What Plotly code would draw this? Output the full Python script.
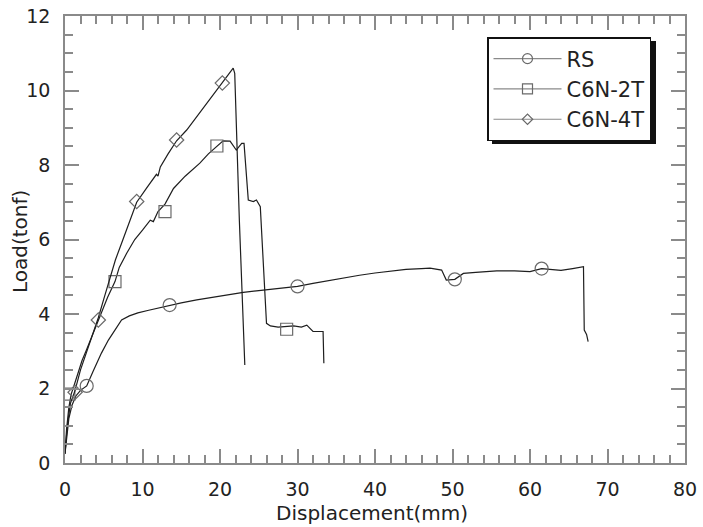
import plotly.graph_objects as go

# ---- data ----
rs_x = [0, 0.2, 0.5, 0.9, 1.4, 2.0, 2.8, 3.6, 4.7, 5.6, 6.5, 7.3, 8.3, 9.4, 10.8, 12.2, 13.5,
        15.0, 17.0, 19.0, 21.0, 23.0, 25.0, 27.0, 28.5, 30.0, 32.0, 34.0, 36.0, 38.0, 40.0,
        42.0, 44.0, 46.0, 47.1, 48.6, 49.2, 50.3, 51.4, 53.0, 55.7, 58.0, 60.0, 61.5, 63.0,
        64.0, 65.5, 66.9, 67.0, 67.3, 67.5]
rs_y = [0.25, 0.7, 1.2, 1.55, 1.8, 1.95, 2.07, 2.45, 2.95, 3.3, 3.6, 3.84, 3.95, 4.03, 4.1,
        4.17, 4.24, 4.3, 4.38, 4.45, 4.52, 4.58, 4.63, 4.68, 4.7, 4.74, 4.82, 4.9, 4.98, 5.04,
        5.1, 5.15, 5.2, 5.22, 5.23, 5.18, 4.91, 4.93, 5.09, 5.12, 5.16, 5.16, 5.14, 5.22, 5.2,
        5.17, 5.22, 5.27, 3.57, 3.45, 3.26]

c2_x = [0, 0.2, 0.5, 0.8, 1.2, 1.7, 2.2, 2.7, 3.2, 3.8, 4.5, 5.5, 6.45, 7.0, 7.96, 9.0, 10.0,
        11.0, 11.4, 12.0, 12.9, 14.0, 15.5, 17.4, 18.5, 19.6, 20.4, 21.3, 22.1, 22.8, 23.1,
        23.65, 24.3, 24.7, 25.2, 26.0, 26.5, 27.5, 28.6, 29.5, 30.5, 31.2, 32.0, 33.3, 33.4]
c2_y = [0.25, 0.9, 1.5, 1.85, 2.1, 2.45, 2.75, 3.0, 3.25, 3.6, 3.95, 4.45, 4.87, 5.25, 5.63,
        6.0, 6.25, 6.52, 6.48, 6.75, 6.95, 7.37, 7.7, 8.05, 8.3, 8.51, 8.65, 8.64, 8.4, 8.58,
        8.58, 7.06, 7.02, 7.06, 6.88, 3.75, 3.68, 3.65, 3.66, 3.68, 3.65, 3.7, 3.53, 3.53, 2.68]

c4_x = [0, 0.3, 0.7, 1.3, 2.0, 2.5, 3.0, 3.5, 4.3, 5.0, 5.8, 6.5, 7.3, 8.2, 9.25, 10.5, 11.3,
        11.8, 12.0, 12.3, 13.3, 14.4, 15.7, 17.0, 18.3, 19.3, 20.3, 21.0, 21.7, 21.9, 22.5, 23.2]
c4_y = [0.25, 1.0, 1.6, 1.95, 2.5, 2.8, 3.1, 3.4, 3.9, 4.4, 4.95, 5.45, 5.9, 6.4, 7.0, 7.37,
        7.6, 7.75, 7.7, 7.95, 8.3, 8.65, 8.94, 9.3, 9.66, 9.95, 10.2, 10.4, 10.6, 10.46, 6.5, 2.63]

# marker positions
rs_mx = [2.8, 13.5, 30.0, 50.3, 61.5]
rs_my = [2.07, 4.24, 4.74, 4.93, 5.22]
c2_mx = [0.5, 6.45, 12.9, 19.6, 28.6]
c2_my = [1.85, 4.87, 6.75, 8.51, 3.59]
c4_mx = [1.3, 4.3, 9.25, 14.4, 20.3]
c4_my = [1.9, 3.84, 7.02, 8.67, 10.2]

names = ["RS", "C6N-2T", "C6N-4T"]
x_ticks = [0, 10, 20, 30, 40, 50, 60, 70, 80]
y_ticks = [0, 2, 4, 6, 8, 10, 12]
x_title = "Displacement(mm)"
y_title = "Load(tonf)"

LINE = "#1e1e1e"
MK = "#6a6a6a"
FONT = "DejaVu Sans"

fig = go.Figure()
series = [
    (rs_x, rs_y, rs_mx, rs_my, "circle-open", 13, 10),
    (c2_x, c2_y, c2_mx, c2_my, "square-open", 12, 10),
    (c4_x, c4_y, c4_mx, c4_my, "diamond-open", 11, 8),
]
for (xs, ys, mx, my, sym, sz, lsz), nm in zip(series, names):
    fig.add_trace(go.Scatter(x=xs, y=ys, mode="lines", line=dict(color=LINE, width=1.2),
                             showlegend=False, hoverinfo="skip"))
    fig.add_trace(go.Scatter(x=mx, y=my, mode="markers",
                             marker=dict(symbol=sym, size=sz, color=MK, line=dict(width=1.2, color=MK)),
                             showlegend=False))
    fig.add_trace(go.Scatter(x=[None], y=[None], mode="lines+markers", name=nm,
                             line=dict(color="#8a8a8a", width=1.2),
                             marker=dict(symbol=sym, size=lsz, color=MK, line=dict(width=1.2, color=MK))))

axis_common = dict(
    showline=True, linecolor="#8a8a8a", linewidth=1.5, mirror="ticks",
    ticks="inside", tickcolor="#8a8a8a", tickwidth=1.5, ticklen=14,
    showgrid=False, zeroline=False, automargin=False,
    tickfont=dict(family=FONT, size=19, color="#222"),
)
fig.update_xaxes(**axis_common, range=[0, 80], tickvals=x_ticks,
                 ticktext=[str(v) for v in x_ticks],
                 minor=dict(dtick=2, ticks="inside", ticklen=8, tickcolor="#8a8a8a", tickwidth=1.5),
                 ticklabelstandoff=8)
fig.update_yaxes(**axis_common, range=[0, 12], tickvals=y_ticks,
                 ticktext=[str(v) for v in y_ticks],
                 minor=dict(dtick=0.5, ticks="inside", ticklen=8, tickcolor="#8a8a8a", tickwidth=1.5),
                 ticklabelstandoff=9)

L, R, T, B = 65, 685, 16, 463
def px2x(p): return (p - L) / (R - L)
def px2y(p): return (B - p) / (B - T)

# axis titles
fig.add_annotation(text=x_title, xref="paper", yref="paper", x=px2x(372), y=px2y(513),
                   xanchor="center", yanchor="middle", showarrow=False,
                   font=dict(family=FONT, size=20, color="#222"))
fig.add_annotation(text=y_title, xref="paper", yref="paper", x=px2x(20), y=px2y(242),
                   xanchor="center", yanchor="middle", showarrow=False, textangle=-90,
                   font=dict(family=FONT, size=20, color="#222"))

# legend shadow
fig.add_shape(type="rect", xref="paper", yref="paper",
              x0=px2x(492), x1=px2x(656), y0=px2y(144), y1=px2y(41),
              fillcolor="#111", line=dict(width=0), layer="above")

fig.update_layout(
    width=703, height=527,
    margin=dict(l=L, r=703 - R, t=T, b=527 - B),
    paper_bgcolor="white", plot_bgcolor="white",
    legend=dict(x=px2x(487), y=px2y(37), xanchor="left", yanchor="top",
                bgcolor="white", bordercolor="#111", borderwidth=1.5,
                font=dict(family=FONT, size=21, color="#222"),
                itemwidth=68, tracegroupgap=0),
    showlegend=True,
)
fig.write_html("out.html", post_script="document.body.style.margin='0';",
               config={"displayModeBar": False})
